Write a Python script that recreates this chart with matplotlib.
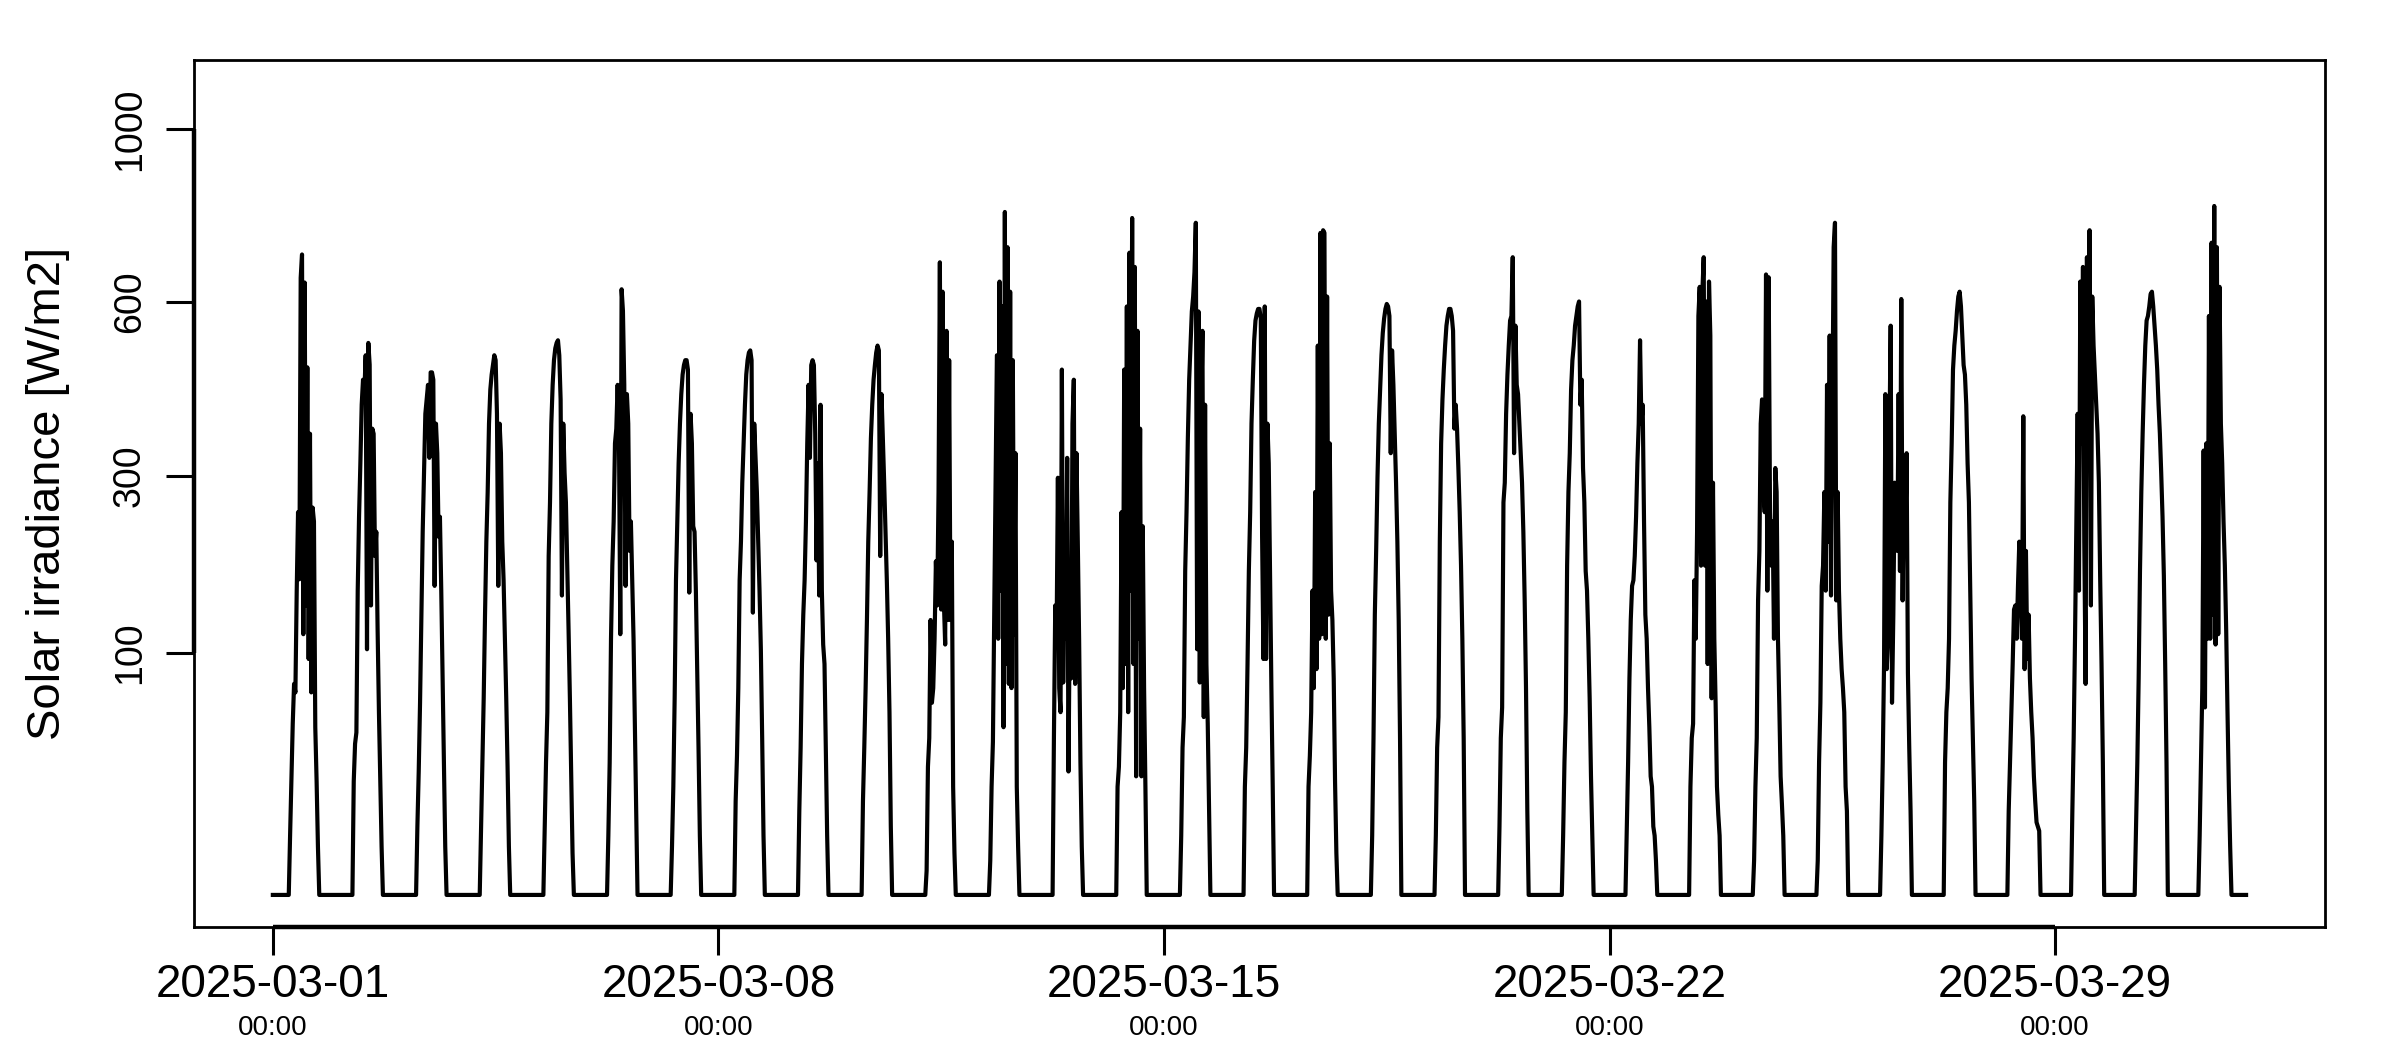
import numpy as np
import pandas as pd
import matplotlib
matplotlib.use('Agg')
import matplotlib.pyplot as plt

plt.rcParams['font.family'] = ['Liberation Sans', 'DejaVu Sans']

# Solar irradiance [W/m2], half-hourly from 06:00 of each day (0 = night)
mar01 = [0, 6, 22, 50, 76, 70, 158, 250, 170, 650, 700, 116, 640, 143, 475, 95, 363, 70, 256, 238, 48, 22, 4, 0]
mar02 = [0, 22, 39, 45, 158, 244, 318, 410, 453, 430, 497, 103, 520, 480, 143, 371, 363, 196, 225, 120, 57, 22, 4, 0]
mar03 = [0, 8, 26, 63, 129, 225, 304, 395, 419, 444, 326, 466, 466, 453, 163, 379, 333, 219, 244, 158, 80, 30, 4, 0]
mar04 = [0, 7, 30, 66, 134, 213, 277, 379, 436, 462, 479, 497, 488, 395, 163, 379, 333, 213, 169, 112, 66, 28, 4, 0]
mar05 = [0, 8, 30, 57, 196, 263, 379, 444, 488, 510, 520, 525, 497, 419, 153, 379, 304, 263, 185, 120, 66, 24, 3, 0]
mar06 = [0, 6, 30, 112, 185, 238, 348, 371, 444, 363, 116, 626, 582, 444, 163, 428, 379, 202, 238, 169, 112, 48, 12, 0]
mar07 = [0, 4, 20, 66, 169, 238, 318, 379, 428, 462, 479, 488, 488, 471, 156, 395, 348, 232, 225, 158, 87, 37, 6, 0]
mar08 = [0, 15, 33, 73, 169, 213, 290, 348, 410, 462, 488, 502, 506, 488, 136, 379, 326, 277, 213, 158, 103, 42, 6, 0]
mar09 = [0, 12, 37, 91, 134, 169, 238, 348, 444, 326, 479, 488, 479, 363, 191, 318, 153, 410, 158, 107, 91, 37, 6, 0]
mar10 = [0, 15, 37, 73, 129, 213, 277, 356, 410, 453, 479, 502, 515, 506, 196, 428, 356, 290, 225, 169, 112, 57, 8, 0]
mar11 = [0, 1, 28, 42, 129, 63, 73, 112, 190, 143, 277, 683, 139, 621, 148, 107, 543, 129, 488, 129, 213, 20, 3, 0]
mar12 = [0, 2, 20, 40, 134, 277, 497, 112, 642, 158, 591, 48, 796, 91, 716, 76, 621, 73, 488, 116, 333, 20, 4, 0]
mar13 = [0, 42, 143, 112, 297, 73, 57, 471, 77, 202, 112, 326, 26, 143, 80, 379, 453, 76, 333, 213, 112, 30, 4, 0]
mar14 = [0, 20, 28, 57, 250, 73, 471, 91, 591, 57, 704, 158, 782, 91, 673, 24, 543, 112, 371, 24, 232, 73, 20, 0]
mar15 = [0, 6, 37, 54, 179, 250, 356, 453, 515, 581, 611, 662, 771, 103, 581, 77, 379, 543, 54, 410, 91, 50, 12, 0]
mar16 = [0, 20, 37, 91, 179, 250, 379, 453, 524, 563, 577, 586, 586, 567, 219, 95, 591, 95, 379, 318, 169, 73, 20, 0]
mar17 = [0, 20, 33, 57, 158, 73, 277, 87, 515, 112, 748, 116, 754, 748, 112, 611, 134, 348, 158, 129, 80, 22, 3, 0]
mar18 = [0, 6, 42, 134, 202, 297, 379, 436, 497, 539, 567, 586, 596, 591, 572, 333, 506, 444, 363, 290, 213, 129, 42, 0]
mar19 = [0, 6, 37, 54, 213, 348, 419, 471, 515, 553, 572, 586, 586, 572, 543, 371, 410, 371, 311, 250, 185, 112, 42, 0]
mar20 = [0, 8, 42, 60, 263, 290, 395, 462, 515, 563, 572, 694, 333, 553, 444, 428, 379, 333, 290, 225, 148, 73, 12, 0]
mar21 = [0, 6, 30, 57, 185, 277, 333, 436, 488, 515, 553, 572, 591, 601, 410, 453, 311, 263, 179, 158, 112, 66, 24, 6, 0]
mar22 = [0, 8, 30, 80, 129, 163, 169, 196, 244, 318, 379, 525, 379, 410, 238, 134, 112, 73, 48, 24, 20, 8, 6, 2, 0]
mar23 = [0, 20, 42, 50, 169, 112, 225, 572, 631, 185, 621, 694, 185, 601, 91, 642, 534, 66, 290, 112, 62, 20, 11, 6, 0]
mar24 = [0, 2, 20, 42, 148, 202, 379, 419, 290, 250, 657, 158, 651, 250, 185, 238, 112, 311, 277, 112, 62, 24, 14, 6, 0]
mar25 = [0, 2, 30, 63, 163, 185, 277, 158, 444, 213, 534, 153, 387, 716, 771, 148, 277, 158, 112, 87, 73, 57, 20, 12, 0]
mar26 = [0, 6, 30, 91, 428, 87, 112, 348, 553, 63, 134, 290, 277, 202, 428, 179, 606, 148, 304, 213, 333, 84, 37, 12, 0]
mar27 = [0, 30, 57, 73, 112, 263, 348, 471, 515, 543, 582, 611, 621, 591, 534, 479, 462, 410, 318, 263, 158, 80, 42, 15, 0]
mar28 = [0, 12, 30, 57, 91, 139, 143, 112, 163, 213, 158, 112, 391, 87, 202, 95, 134, 80, 57, 42, 24, 15, 9, 8, 7, 0]
mar29 = [0, 12, 42, 112, 238, 395, 158, 642, 348, 673, 213, 76, 694, 348, 754, 143, 611, 515, 462, 410, 363, 290, 169, 91, 30, 0]
mar30 = [0, 8, 30, 80, 179, 277, 363, 444, 515, 563, 572, 591, 616, 621, 591, 553, 515, 471, 410, 363, 304, 244, 174, 91, 30, 0]
mar31 = [0, 6, 30, 73, 337, 60, 348, 112, 572, 112, 726, 134, 810, 107, 716, 116, 631, 379, 318, 238, 185, 120, 57, 20, 4, 0]

days = [mar01, mar02, mar03, mar04, mar05, mar06, mar07, mar08, mar09, mar10,
        mar11, mar12, mar13, mar14, mar15, mar16, mar17, mar18, mar19, mar20,
        mar21, mar22, mar23, mar24, mar25, mar26, mar27, mar28, mar29, mar30, mar31]

first_hour = 6.0
step_hours = 0.5

tick_dates = ['2025-03-01', '2025-03-08', '2025-03-15', '2025-03-22', '2025-03-29']
tick_times = ['00:00'] * len(tick_dates)
y_ticks = [100, 300, 600, 1000]

# build the time series
start = pd.Timestamp('2025-03-01 00:00')
hours, irr = [], []
for n, day in enumerate(days):
    hours.append(24.0 * n)
    irr.append(0)
    for k, v in enumerate(day):
        hours.append(24.0 * n + first_hour + step_hours * k)
        irr.append(v)
hours.append(24.0 * len(days))
irr.append(0)
t = start + pd.to_timedelta(hours, unit='h')


def fwd(v):
    v = np.asarray(v, dtype=float)
    return np.sign(v) * np.sqrt(np.abs(v))


def inv(s):
    s = np.asarray(s, dtype=float)
    return np.sign(s) * s ** 2


fig = plt.figure(figsize=(24, 10.5), dpi=100)
ax = fig.add_axes([0.0808, 0.1171, 0.88795, 0.8258])

ax.plot(t, irr, color='black', lw=3.0)

ax.set_yscale('function', functions=(fwd, inv))
# R style limits: 4% padding around sqrt(0)..sqrt(1100)
smax = np.sqrt(1100)
ax.set_ylim(inv(-0.04 * smax), inv(1.04 * smax))
span = t[-1] - t[0]
ax.set_xlim(t[0] - 0.04 * span, t[-1] + 0.04 * span)

for s in ax.spines.values():
    s.set_linewidth(2.0)

ticks = pd.to_datetime(tick_dates)
ax.set_xticks(ticks)
ax.set_xticklabels(tick_dates)
ax.set_xticks(ticks, minor=True)
ax.set_xticklabels(tick_times, minor=True)
ax.xaxis.remove_overlapping_locs = False
ax.tick_params(axis='x', which='major', length=20, width=2.2, pad=6, labelsize=33)
ax.tick_params(axis='x', which='minor', length=0, pad=63, labelsize=20)

ax.set_yticks(y_ticks)
ax.set_yticklabels([str(v) for v in y_ticks])
ax.yaxis.set_minor_locator(matplotlib.ticker.NullLocator())
ax.tick_params(axis='y', length=20, width=2.2, pad=26, labelsize=27)
for lab in ax.get_yticklabels():
    lab.set_rotation(90)
    lab.set_ha('center')
    lab.set_va('center')

# axis lines between first and last tick (R axis())
ax.plot([ticks[0], ticks[-1]], [0, 0], transform=ax.get_xaxis_transform(),
        color='black', lw=3.2, clip_on=False, solid_capstyle='butt')
ax.plot([0, 0], [y_ticks[0], y_ticks[-1]], transform=ax.get_yaxis_transform(),
        color='black', lw=3.2, clip_on=False, solid_capstyle='butt')

ax.set_ylabel('Solar irradiance [W/m2]', fontsize=34)
ax.yaxis.label.set_va('center')
ax.yaxis.set_label_coords(-0.0685, 0.5)

fig.savefig('out.png', dpi=100)
